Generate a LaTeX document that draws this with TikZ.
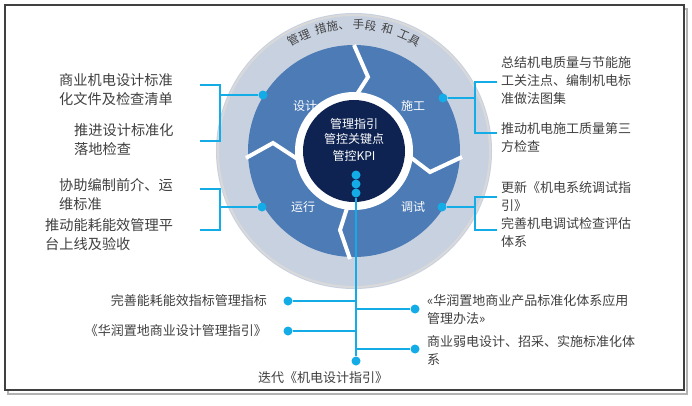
\documentclass[tikz,border=0pt]{standalone}
\usepackage{fontspec}
\newfontfamily\cjk{Noto Sans CJK SC}
\usetikzlibrary{decorations.text}
\definecolor{ringgray}{HTML}{C8D1E0}
\definecolor{diskblue}{HTML}{4C7BB6}
\definecolor{coreblue}{HTML}{0E2352}
\definecolor{linkcyan}{HTML}{14ACE6}
\definecolor{txtgray}{HTML}{404040}
\begin{document}
\begin{tikzpicture}[x=1pt,y=1pt,
  dot/.style={circle,fill=linkcyan,inner sep=0pt,minimum size=9pt},
  link/.style={draw=linkcyan,line width=1.2pt},
  cut/.style={draw=white,line width=4pt,line join=miter},
  item/.style={font=\cjk\fontsize{13}{18}\selectfont,text=txtgray,align=left,inner sep=1pt},
  bigitem/.style={item,font=\cjk\fontsize{14.2}{19}\selectfont},
  stage/.style={font=\cjk\fontsize{12}{15}\selectfont,text=white}]
\useasboundingbox (0,0) rectangle (692,-405);
\draw[black!30,line width=2pt] (8,-9) rectangle (687,-394);
\draw[fill=white,draw=black!75,line width=1.5pt] (5,-5) rectangle (684,-390);
\coordinate (c) at (354,-151);
% rings
\fill[ringgray] (c) circle (138);
\draw[black!15,line width=2pt] (c) circle (136);
\fill[diskblue] (c) circle (106);
% puzzle cuts
\draw[cut] (354,-45) -- (368,-77) -- (352,-102);
\draw[cut] (405,-153) -- (430,-172) -- (462,-157);
\draw[cut] (348,-205) -- (340,-230) -- (350,-259);
\draw[cut] (302,-162) -- (273,-143) -- (246,-158);
\fill[white] (c) circle (59);
\fill[coreblue] (c) circle (51);
\path[decorate,decoration={text along path,text align=center,
  text={|\cjk\fontsize{11.5}{13}\selectfont\color{txtgray}|管理~~措施、~手段~~和~~工具}}]
  (c) ++(150:122) arc (150:30:122);
\node[stage] (core) at (354,-141) {\begin{tabular}{c}管理指引\\管控关键点\\[2pt]管控KPI\end{tabular}};
\node[stage] (design) at (305,-106) {设计};
\node[stage] (build) at (413,-106) {施工};
\node[stage] (run) at (303,-207) {运行};
\node[stage] (test) at (413,-207) {调试};
% stage dots
\node[dot] (dd) at (263,-95) {};
\node[dot] (db) at (443,-98) {};
\node[dot] (dr) at (262,-207) {};
\node[dot] (dt) at (442,-207) {};
\foreach \k/\y in {1/175,2/184,3/193} \node[dot] (dc\k) at (356,-\y) {};
% left items
\node[bigitem,anchor=west] (d1) at (58,-90) {商业机电设计标准\\化文件及检查清单};
\node[bigitem,anchor=west] (d2) at (73,-140) {推进设计标准化\\落地检查};
\node[bigitem,anchor=west] (r1) at (58,-195) {协助编制前介、运\\维标准};
\node[bigitem,anchor=west] (r2) at (44,-235) {推动能耗能效管理平\\台上线及验收};
% right items
\node[item,anchor=west] (b1) at (500,-81) {总结机电质量与节能施\\工关注点、编制机电标\\准做法图集};
\node[item,anchor=west] (b2) at (500,-138) {推动机电施工质量第三\\方检查};
\node[item,anchor=west] (t1) at (500,-197) {更新《机电系统调试指\\引》};
\node[item,anchor=west] (t2) at (500,-232) {完善机电调试检查评估\\体系};
% brackets
\foreach \dt/\x/\ya/\yb/\s in {dd/220/85/141/200,dr/220/189/230/200,
                               db/475/82/133/497,dt/475/197/230/497} {
  \coordinate (k) at (\x,0);
  \draw[link] (\dt) -- (\dt -| k);
  \draw[link] (\s,-\ya) -- (\x,-\ya) -- (\x,-\yb) -- (\s,-\yb);
}
% bottom stem
\node[dot] (de) at (356,-361) {};
\node[dot] (dl1) at (288,-301) {};
\node[dot] (dl2) at (288,-331) {};
\node[dot] (dq1) at (415,-309) {};
\node[dot] (dq2) at (415,-349) {};
\draw[link] (dc3) -- (de);
\draw[link] (dl1) -- (dl1 -| de);
\draw[link] (dl2) -- (dl2 -| de);
\draw[link] (dq1) -- (dq1 -| de);
\draw[link] (dq2) -- (dq2 -| de);
\node[item,anchor=east] (l1) at (268,-301) {完善能耗能效指标管理指标};
\node[item,anchor=east] (l2) at (268,-331) {《华润置地商业设计管理指引》};
\node[item,anchor=west] (q1) at (426,-310) {«华润置地商业产品标准化体系应用\\管理办法»};
\node[item,anchor=west] (q2) at (426,-350) {商业弱电设计、招采、实施标准化体\\系};
\node[item] (e) at (323,-378) {迭代《机电设计指引》};
\end{tikzpicture}
\end{document}
